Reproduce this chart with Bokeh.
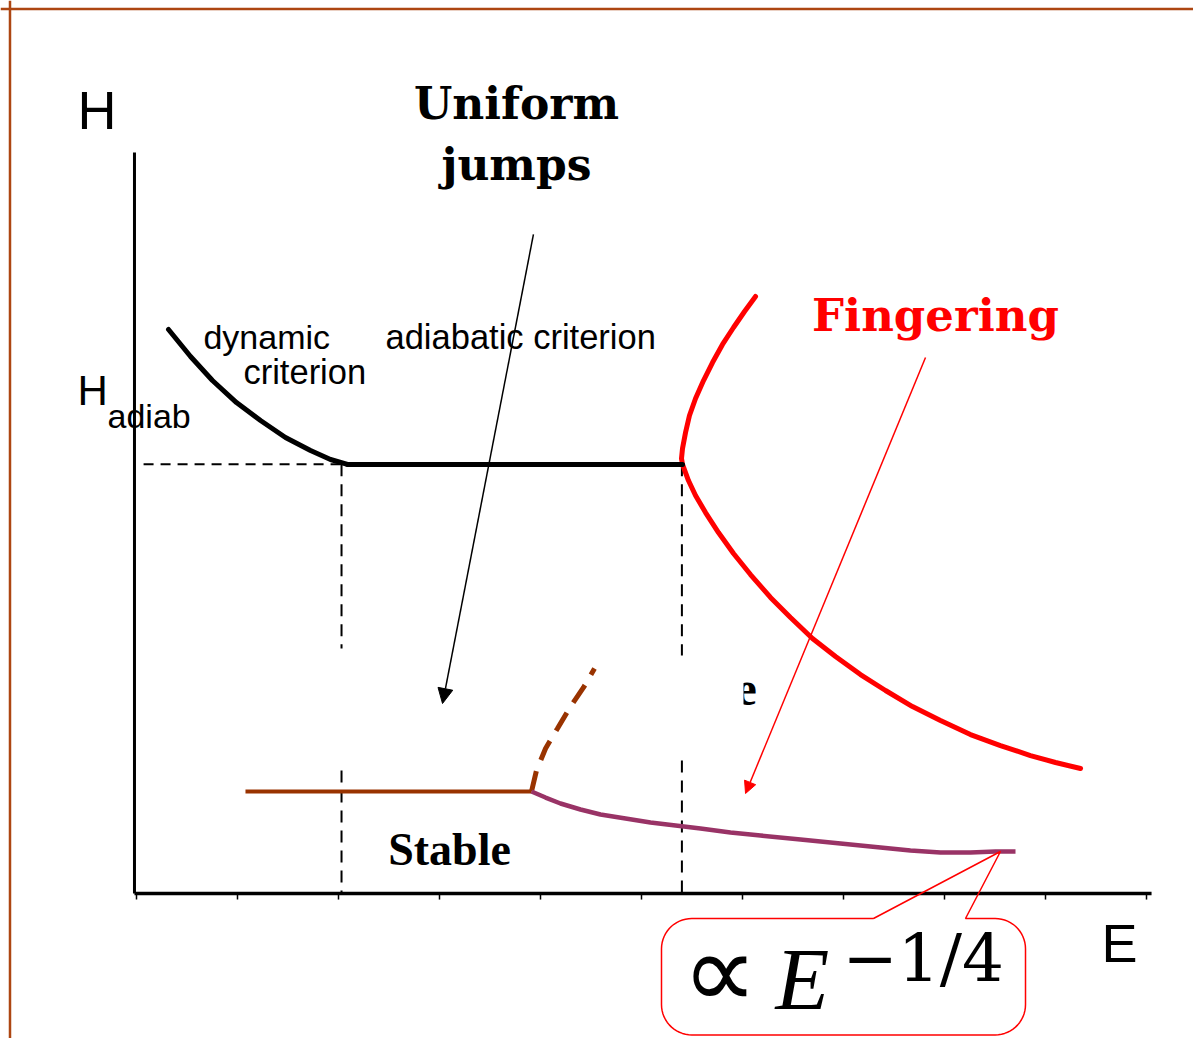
import numpy as np
from bokeh.plotting import figure
from bokeh.models import Range1d, Label, Arrow, NormalHead, Span
from bokeh.core.properties import value
from bokeh.embed import file_html
from bokeh.resources import INLINE

# ---------------- data (E and H in schematic units; one tick = one unit) ----------------
TICKS_E = [0, 1, 2, 3, 4, 5, 6, 7, 8, 9, 10]
H_ADIAB = 4.25          # adiabatic threshold field
E_DYN = 2.03            # end of the dynamic-criterion branch
E_FING = 5.40           # onset of fingering

# dynamic criterion (black, falling)
DYN_E = [0.317, 0.535, 0.752, 0.990, 1.228, 1.475, 1.723, 1.921, 2.089]
DYN_H = [5.584, 5.317, 5.079, 4.861, 4.683, 4.515, 4.386, 4.297, 4.248]
# adiabatic criterion (black, flat)
ADIAB_E = [2.089, 5.406]
ADIAB_H = [4.248, 4.248]
# fingering boundary (red): upper branch then lower branch
FING_E = [6.129, 6.020, 5.911, 5.802, 5.703, 5.614, 5.535, 5.475, 5.436, 5.406, 5.396, 5.406,
          5.465, 5.535, 5.634, 5.762, 5.911, 6.079, 6.277, 6.475, 6.693, 6.921, 7.168,
          7.416, 7.683, 7.960, 8.257, 8.554, 8.851, 9.099, 9.347]
FING_H = [5.911, 5.762, 5.604, 5.436, 5.257, 5.079, 4.901, 4.733, 4.564, 4.406, 4.307, 4.248,
          4.089, 3.941, 3.772, 3.574, 3.366, 3.158, 2.931, 2.733, 2.525, 2.347, 2.168,
          2.010, 1.851, 1.713, 1.574, 1.465, 1.366, 1.297, 1.238]
# stable flat boundary (brown)
STAB_E = [1.079, 3.911]
STAB_H = [1.010, 1.010]
# brown dashed branch
BRANCH_E = [3.911, 3.960, 4.050, 4.168, 4.297, 4.426, 4.535]
BRANCH_H = [1.010, 1.218, 1.436, 1.634, 1.851, 2.040, 2.228]
# E^-1/4 boundary (purple)
POW_E = [3.911, 4.050, 4.198, 4.396, 4.594, 4.842, 5.089, 5.337, 5.584, 5.881, 6.178,
         6.574, 6.970, 7.366, 7.663, 7.960, 8.257, 8.505, 8.703]
POW_H = [1.010, 0.950, 0.891, 0.832, 0.782, 0.743, 0.703, 0.673, 0.644, 0.604, 0.574,
         0.535, 0.495, 0.455, 0.426, 0.406, 0.406, 0.416, 0.416]

# dashed guide segments (gaps where the original hides them)
DYN_GUIDE_H = [(H_ADIAB, 2.426), (1.218, 0.0)]
FING_GUIDE_H = [(H_ADIAB, 2.356), (1.317, 0.0)]

# ---------------- figure ----------------
W, H = 1193, 1038
PX = 101.0  # pixels per unit (for text baseline correction)
p = figure(width=W, height=H, output_backend="svg", toolbar_location=None,
           x_range=Range1d(-1.3465, 10.4653), y_range=Range1d(-1.4356, 8.8416),
           x_axis_location=None, y_axis_location=None, min_border=0,
           outline_line_color=None, background_fill_color="white",
           border_fill_color="white")
p.grid.visible = False

SANS = "Liberation Sans"
SERIF = "Liberation Serif"
DSERIF = "DejaVu Serif"
BASE_K = 0.375

# slide frame (top and left edges)
p.add_layout(Span(location=8.757, dimension="width", line_color="#AD4612", line_width=2.5))
p.add_layout(Span(location=-1.2525, dimension="height", line_color="#AD4612", line_width=2.5))

# axes
p.line([-0.02, 10.05], [0, 0], line_color="black", line_width=3.5)
p.line([-0.02, -0.02], [0, 7.337], line_color="black", line_width=3)
p.segment(x0=TICKS_E, y0=[0] * len(TICKS_E), x1=TICKS_E, y1=[-0.06] * len(TICKS_E),
          line_color="black", line_width=1.5)

# dashed guides
p.line([0.07, E_DYN], [H_ADIAB, H_ADIAB], line_color="black", line_width=2, line_dash="10 7")
for a, b in DYN_GUIDE_H:
    p.line([E_DYN, E_DYN], [a, b], line_color="black", line_width=2, line_dash="12 8")
for a, b in FING_GUIDE_H:
    p.line([E_FING, E_FING], [a, b], line_color="black", line_width=2, line_dash="12 8")

# hidden-text fragment ("e", mostly covered)
p.text(x=[5.931], y=[1.851 + BASE_K * 48 / PX], text=["e"], text_font=value(SERIF),
       text_font_style="bold", text_font_size="48px", text_color="black",
       text_baseline="alphabetic")
p.quad(left=[5.60], right=[6.010], bottom=[1.60], top=[2.40], fill_color="white", line_color=None)

# curves
p.line(FING_E, FING_H, line_color="#FF0000", line_width=5, line_cap="round", line_join="round")
p.line(DYN_E, DYN_H, line_color="black", line_width=5, line_cap="round", line_join="round")
p.line(ADIAB_E, ADIAB_H, line_color="black", line_width=5, line_cap="round")
p.line(STAB_E, STAB_H, line_color="#993300", line_width=4)
p.line(BRANCH_E, BRANCH_H, line_color="#993300", line_width=5, line_dash="21 12")
p.line(POW_E, POW_H, line_color="#993366", line_width=4.5, line_join="round")

# arrows
p.add_layout(Arrow(end=NormalHead(size=15, fill_color="black", line_color="black"),
                   x_start=3.93, y_start=6.525, x_end=3.030, y_end=1.881,
                   line_color="black", line_width=1.5))
p.add_layout(Arrow(end=NormalHead(size=12, fill_color="#FF0000", line_color="#FF0000"),
                   x_start=7.812, y_start=5.307, x_end=6.030, y_end=0.990,
                   line_color="#FF0000", line_width=1.5))

# callout box with pointer to the E^-1/4 curve
BOX_L, BOX_R, BOX_T, BOX_B, RAD = 5.198, 8.802, -0.2475, -1.400, 0.30
PTR_A, PTR_TIP, PTR_B = 7.297, (8.554, 0.416), 8.208

def arc(cx, cy, a0, a1, n=16):
    t = np.linspace(np.radians(a0), np.radians(a1), n)
    return list(cx + RAD * np.cos(t)), list(cy + RAD * np.sin(t))

xs, ys = [PTR_A], [BOX_T]
ax, ay = arc(BOX_L + RAD, BOX_T - RAD, 90, 180); xs += ax; ys += ay
ax, ay = arc(BOX_L + RAD, BOX_B + RAD, 180, 270); xs += ax; ys += ay
ax, ay = arc(BOX_R - RAD, BOX_B + RAD, 270, 360); xs += ax; ys += ay
ax, ay = arc(BOX_R - RAD, BOX_T - RAD, 0, 90); xs += ax; ys += ay
xs += [PTR_B, PTR_TIP[0], PTR_A]; ys += [BOX_T, PTR_TIP[1], BOX_T]
p.line(xs, ys, line_color="#FF0000", line_width=1.5)

# ---------------- texts ----------------
def lab(x, y, t, font, size, color="black", style="normal", align="left"):
    p.add_layout(Label(x=x, y=y + BASE_K * size / PX, text=t, text_font=font,
                       text_font_size=f"{size}px", text_color=color,
                       text_font_style=style, text_align=align,
                       text_baseline="alphabetic"))

lab(-0.584, 7.554, "H", SANS, 54)
lab(9.554, -0.693, "E", SANS, 54)
lab(-0.584, 4.822, "H", SANS, 42)
lab(-0.287, 4.604, "adiab", SANS, 34)
lab(0.663, 5.386, "dynamic", SANS, 34)
lab(1.059, 5.040, "criterion", SANS, 34.5)
lab(2.465, 5.386, "adiabatic criterion", SANS, 34.5)
lab(3.762, 7.663, "Uniform", DSERIF, 44, style="bold", align="center")
lab(3.762, 7.059, "jumps", DSERIF, 44, style="bold", align="center")
lab(7.911, 5.554, "Fingering", DSERIF, 45, color="#FF0000", style="bold", align="center")
lab(3.099, 0.267, "Stable", SERIF, 46, style="bold", align="center")
lab(5.40, -1.178, "\u221d", SERIF, 106)
lab(6.327, -1.178, "E", SERIF, 88, style="italic")
lab(6.990, -0.891, "\u22121/4", DSERIF, 66)

open("out.html", "w").write(file_html(p, INLINE))
